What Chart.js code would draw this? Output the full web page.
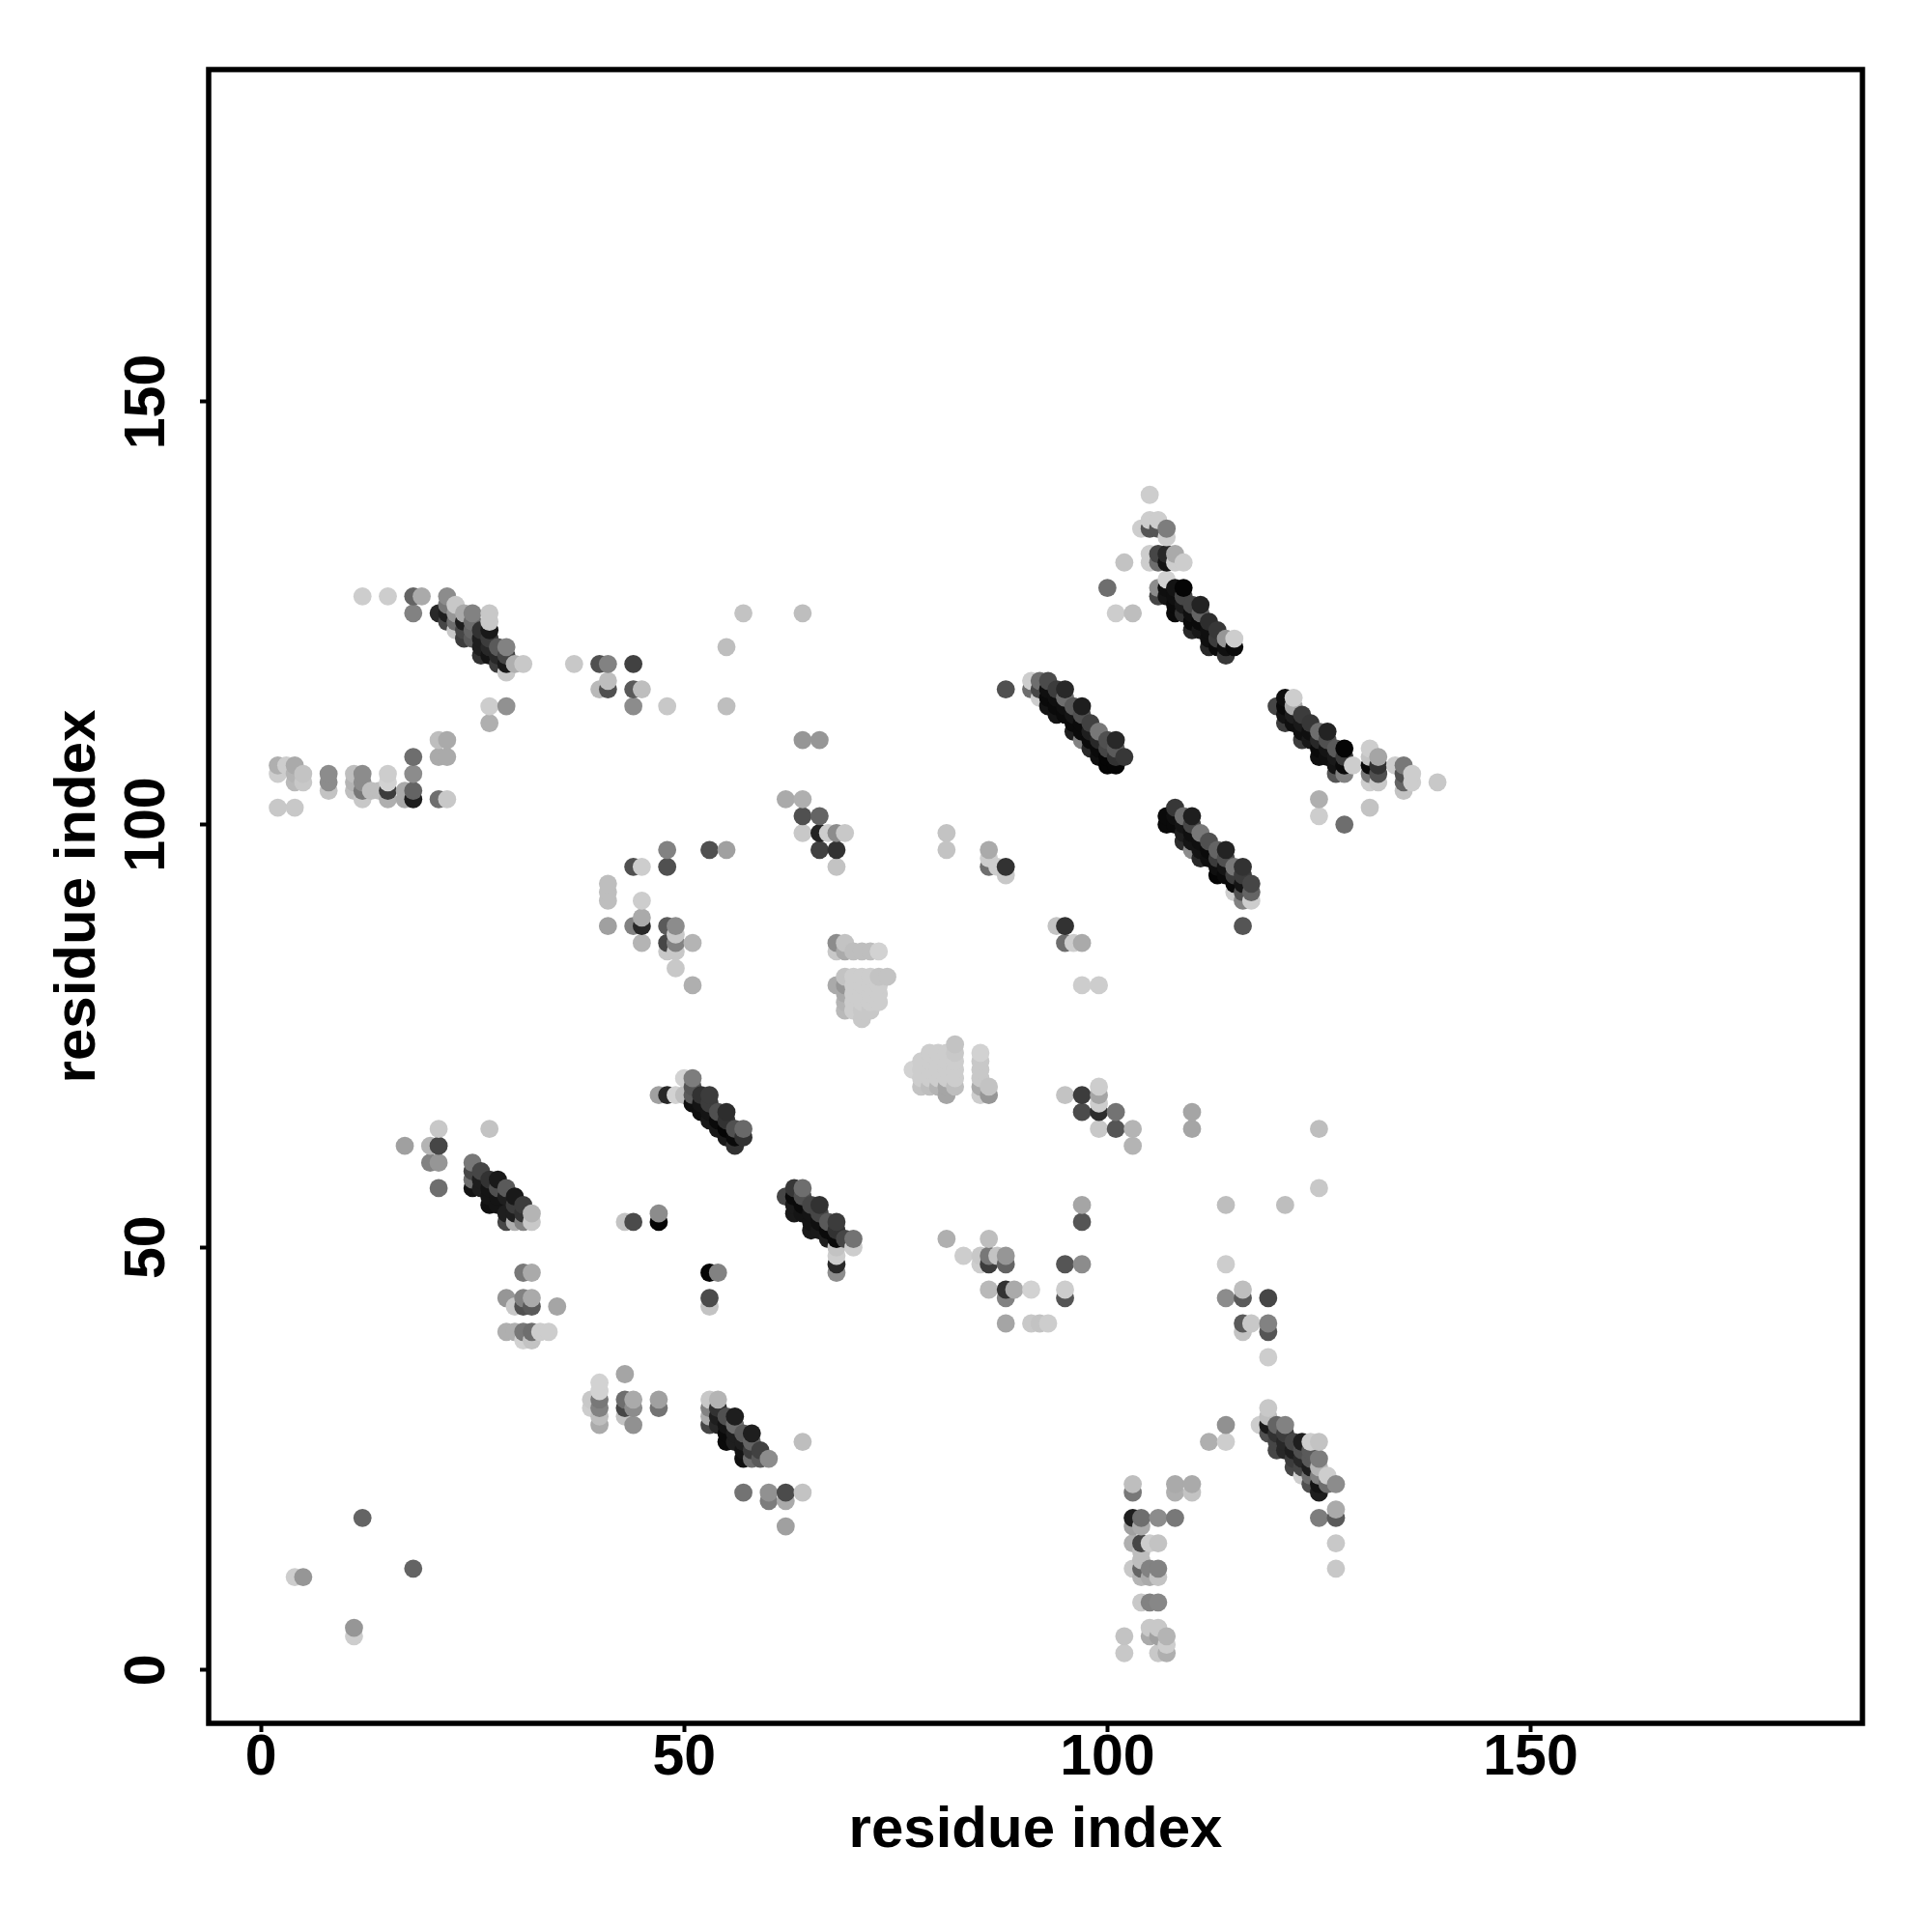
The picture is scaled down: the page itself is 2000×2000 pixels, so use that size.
<!DOCTYPE html>
<html>
<head>
<meta charset="utf-8">
<title>contact map</title>
<script src="https://cdn.jsdelivr.net/npm/chart.js@4/dist/chart.umd.js"></script>
<style>
  body { margin: 0; background: #fff; }
  canvas { display: block; }
</style>
</head>
<body>
<canvas id="contactMap" width="2000" height="2000"></canvas>
<script>
// each contact is [residue x, residue y, darkness 0-255]
const leftArm = [[2,107,80],[2,106,50],[2,102,55],[3,107,50],[4,107,85],[4,106,75],[4,105,70],[4,102,55],[5,106,60],[5,105,55],[8,106,115],[8,105,115],[8,104,60],[11,106,65],[11,105,75],[11,104,65],[12,106,115],[12,105,115],[12,104,135],[12,103,55],[13,104,65],[14,104,65],[15,106,50],[15,105,45],[15,104,195],[15,103,80],[17,104,85],[17,103,85],[18,108,145],[18,106,115],[18,104,155],[18,103,225],[21,110,65],[21,108,85],[21,103,145],[22,110,85],[22,108,85],[22,103,55]];
const sheetA = [[12,127,50],[15,127,50],[18,127,155],[19,127,85],[22,127,115],[18,125,125],[21,125,215],[22,126,135],[22,125,225],[22,124,185],[23,126,55],[23,125,105],[23,124,145],[23,123,55],[24,125,85],[24,124,225],[24,123,185],[24,122,195],[25,125,125],[25,124,145],[25,123,155],[25,122,165],[26,123,205],[26,122,225],[26,121,225],[26,120,205],[27,125,55],[27,124,55],[27,123,230],[27,122,195],[27,121,215],[27,120,235],[28,121,165],[28,120,215],[28,119,195],[29,121,125],[29,120,185],[29,119,230],[29,118,55],[30,119,80],[31,119,55],[27,114,50],[29,114,110],[27,112,80]];
const upperMiddle = [[57,125,60],[64,125,65],[55,121,65],[37,119,55],[40,119,175],[41,119,125],[44,119,190],[40,116,70],[41,117,65],[41,116,175],[44,116,165],[45,116,65],[44,114,115],[48,114,55],[55,114,65],[64,110,105],[66,110,105],[62,103,85],[64,103,80],[64,101,175],[66,101,155],[64,99,55],[66,99,220],[67,99,50],[68,99,115],[69,99,55],[81,99,60],[66,97,190],[68,97,205],[48,97,125],[53,97,175],[55,97,95],[81,97,60],[44,95,175],[45,95,50],[48,95,175],[68,95,60],[41,93,65],[41,92,65],[41,91,65],[45,91,50],[45,89,85],[41,88,95],[44,88,125],[45,88,215],[48,88,165],[49,88,115],[49,87,55],[45,86,75],[48,86,185],[49,86,125],[51,86,75],[48,85,55],[49,85,55],[49,83,55],[51,81,80]];
const blobUpper = [[68,86,115],[69,86,60],[68,85,55],[69,85,85],[70,85,65],[71,85,65],[72,85,65],[73,85,45],[69,82,60],[70,82,50],[71,82,50],[72,82,50],[73,82,60],[74,82,60],[68,81,85],[69,81,105],[70,81,50],[71,81,50],[72,81,50],[73,81,50],[69,80,85],[70,80,50],[71,80,50],[72,80,50],[73,80,50],[69,79,75],[70,79,50],[71,79,50],[72,79,50],[73,79,50],[69,78,70],[70,78,50],[71,78,55],[72,78,55],[71,77,55]];
const blobLower = [[82,74,60],[79,73,50],[80,73,50],[81,73,50],[82,73,55],[85,73,45],[78,72,50],[79,72,50],[80,72,50],[81,72,50],[82,72,50],[85,72,55],[77,71,45],[78,71,50],[79,71,50],[80,71,50],[81,71,50],[82,71,50],[85,71,55],[78,70,50],[79,70,50],[80,70,50],[81,70,50],[82,70,50],[85,70,55],[78,69,60],[79,69,65],[80,69,75],[81,69,90],[82,69,65],[85,69,85],[86,69,60],[81,68,90],[85,68,50],[86,68,105]];
const midRight = [[86,97,85],[86,96,50],[86,95,145],[87,95,50],[88,95,205],[88,94,55],[94,88,60],[95,88,205],[95,86,145],[96,86,50],[97,86,85],[97,81,50],[99,81,50],[95,68,60],[97,68,195],[99,69,50],[99,68,90],[99,67,50],[97,66,180],[99,66,210],[101,66,140],[99,64,55],[101,64,170],[103,64,75],[103,62,75],[110,66,90],[110,64,90],[125,64,65],[125,57,55],[114,55,65],[121,55,65],[97,55,90],[97,53,170]];
const sheetB = [[47,68,95],[48,68,215],[49,68,45],[50,68,65],[50,70,45],[51,70,130],[51,69,170],[51,68,165],[51,67,240],[52,68,205],[52,67,235],[52,66,240],[53,68,195],[53,67,195],[53,66,235],[53,65,230],[54,66,175],[54,65,245],[54,64,230],[55,66,210],[55,65,205],[55,64,250],[55,63,230],[56,64,175],[56,63,245],[56,62,205],[57,64,150],[57,63,205]];
const sheetC = [[62,56,185],[63,57,200],[63,56,245],[63,55,230],[63,54,230],[64,57,145],[64,56,175],[64,55,245],[64,54,235],[65,55,185],[65,54,235],[65,53,235],[65,52,230],[66,55,205],[66,54,185],[66,53,240],[66,52,230],[67,53,165],[67,52,245],[67,51,225],[68,53,195],[68,52,205],[68,51,245],[68,50,60],[68,49,50],[68,48,215],[68,47,115],[69,51,185],[70,51,140],[70,50,50]];
const sheetD = [[17,62,95],[20,62,75],[21,64,55],[21,62,185],[20,60,125],[21,60,105],[21,57,145],[27,64,60],[25,60,135],[25,59,185],[25,58,145],[25,57,235],[26,59,185],[26,58,225],[26,57,225],[27,58,205],[27,57,235],[27,56,235],[27,55,240],[28,58,230],[28,57,175],[28,56,235],[28,55,235],[29,57,165],[29,56,225],[29,54,225],[29,53,185],[30,56,230],[30,55,195],[30,54,225],[30,53,80],[31,55,195],[31,54,205],[31,53,125],[32,54,75],[32,53,55]];
const lowerMiddle = [[43,53,60],[44,53,180],[47,54,115],[47,53,250],[53,47,250],[54,47,125],[53,44,180],[53,43,60],[31,47,135],[32,47,85],[29,44,105],[31,44,125],[32,44,85],[30,43,55],[31,43,175],[32,43,165],[35,43,90],[29,40,80],[30,40,80],[31,40,135],[32,40,145],[33,40,50],[34,40,50],[31,39,45],[32,39,60]];
const lowerRight = [[81,51,80],[86,51,65],[83,49,50],[85,49,55],[86,49,135],[87,49,60],[88,49,105],[85,48,50],[86,48,195],[88,48,155],[95,48,170],[97,48,115],[114,48,50],[86,45,70],[88,45,205],[89,45,85],[91,45,45],[95,45,50],[116,45,65],[88,44,125],[95,44,170],[114,44,115],[116,44,165],[119,44,185],[88,41,90],[91,41,55],[92,41,60],[93,41,50],[116,41,165],[117,41,55],[119,41,125],[116,40,60],[119,40,170],[119,37,50]];
const sheetE = [[43,35,90],[40,34,45],[40,33,45],[39,32,55],[40,32,135],[43,32,145],[44,32,85],[47,32,95],[39,31,50],[40,31,125],[43,31,185],[44,31,115],[47,31,140],[40,30,65],[43,30,60],[40,29,85],[44,29,110],[53,32,55],[53,31,125],[53,30,85],[53,29,185],[54,32,75],[54,31,205],[54,30,225],[54,29,215],[55,30,175],[55,29,235],[55,28,245],[55,27,245],[56,30,225],[56,29,145],[56,28,225],[56,27,225],[57,28,165],[57,27,225],[57,26,235],[57,25,240],[58,28,225],[58,27,155],[58,26,195],[58,25,145],[59,26,190],[59,25,165],[60,25,115],[64,27,65],[57,21,140],[60,21,110],[62,21,180],[64,21,60],[60,20,130],[62,20,85],[62,17,95]];
const sheetF = [[114,29,110],[112,27,80],[114,27,50],[118,29,50],[119,31,55],[119,30,65],[119,29,230],[119,28,175],[120,29,155],[120,28,205],[120,27,185],[120,26,185],[121,29,125],[121,28,195],[121,27,215],[121,26,215],[122,27,185],[122,26,225],[122,25,195],[122,24,185],[123,27,225],[123,26,175],[123,25,215],[123,24,185],[123,23,50],[124,27,50],[124,26,165],[124,25,165],[124,24,225],[124,23,145],[124,22,175],[125,27,60],[125,25,130],[125,24,75],[125,23,125],[125,22,235],[125,21,225],[126,23,50],[126,22,145],[127,22,115],[127,19,85],[125,18,130],[127,18,165],[127,15,55],[127,12,55]];
const bottomColumn = [[103,22,65],[103,21,135],[103,18,225],[104,18,145],[106,18,115],[108,18,135],[108,22,85],[108,21,80],[110,22,85],[110,21,60],[103,17,95],[104,17,85],[103,15,80],[104,15,185],[105,15,50],[106,15,60],[104,14,65],[104,13,65],[103,12,55],[104,12,155],[105,12,125],[106,12,125],[104,11,75],[105,11,85],[106,11,60],[104,8,55],[105,8,125],[106,8,120],[105,5,55],[106,5,55],[102,4,60],[105,4,85],[106,4,95],[107,4,75],[107,3,50],[102,2,55],[106,2,55],[107,2,80]];
const cornerLeft = [[12,18,155],[4,11,50],[5,11,105],[18,12,155],[11,5,105],[11,4,50]];
const topCluster = [[105,139,50],[105,136,50],[106,136,50],[104,135,50],[105,135,170],[106,135,170],[107,135,130],[107,134,50],[105,132,50],[106,132,185],[107,132,215],[108,132,85],[102,131,60],[105,131,50],[106,131,145],[107,131,235],[108,131,50],[109,131,50],[107,129,45],[100,128,145],[106,128,115],[107,128,240],[108,128,235],[109,128,250],[106,127,185],[107,127,235],[108,127,240],[109,127,185],[101,125,50],[103,125,65],[108,126,245],[109,126,230],[110,126,185],[111,126,220],[108,125,245],[109,125,205],[110,125,240],[111,125,155],[110,124,245],[111,124,245],[112,124,210],[110,123,215],[111,123,230],[112,123,240],[113,123,200],[112,122,240],[113,122,195],[114,122,105],[115,122,50],[112,121,215],[113,121,245],[114,121,240],[115,121,245],[114,120,200]];
const sheetG = [[88,116,175],[91,117,50],[91,116,145],[92,117,145],[92,116,185],[92,115,50],[93,117,180],[93,116,240],[93,115,245],[93,114,235],[94,116,195],[94,115,240],[94,114,245],[94,113,235],[95,116,215],[95,115,145],[95,114,240],[95,113,245],[96,114,165],[96,113,235],[96,112,245],[96,111,225],[97,114,225],[97,113,175],[97,112,245],[97,111,245],[97,110,125],[98,112,190],[98,111,225],[98,110,245],[98,109,215],[99,111,135],[99,110,215],[99,109,245],[99,108,240],[100,110,175],[100,109,185],[100,108,250],[100,107,250],[101,110,215],[101,109,165],[101,108,205],[101,107,250],[102,108,200]];
const sheetH = [[120,114,185],[121,115,240],[121,114,245],[121,113,235],[121,112,195],[122,115,50],[122,114,85],[122,113,225],[122,112,240],[123,113,195],[123,112,230],[123,111,240],[123,110,195],[124,112,200],[124,111,240],[124,110,230],[125,111,145],[125,110,215],[125,109,245],[125,108,240],[126,111,220],[126,110,175],[126,109,235],[126,108,240],[127,109,165],[127,108,230],[127,107,235],[127,106,170],[128,109,250],[128,108,195],[128,107,245],[128,106,125],[129,107,50],[131,109,50],[131,108,60],[131,107,245],[131,106,135],[131,105,50],[132,108,90],[132,107,205],[132,106,175],[132,105,55],[134,107,50],[135,107,135],[135,106,175],[135,105,155],[135,104,60],[136,106,50],[136,105,50],[139,105,55],[125,103,80],[125,101,50],[131,102,60],[128,100,145]];
const sheetI = [[108,102,200],[107,101,245],[107,100,245],[108,101,240],[108,100,245],[109,101,145],[109,100,235],[109,99,225],[109,98,210],[110,101,225],[110,100,185],[110,99,240],[110,98,235],[110,97,115],[111,99,135],[111,98,240],[111,97,235],[111,96,215],[112,98,175],[112,97,245],[112,96,240],[113,97,155],[113,96,195],[113,95,240],[113,94,250],[114,97,220],[114,96,175],[114,95,235],[114,94,245],[115,95,135],[115,94,195],[115,93,245],[115,92,50],[116,95,205],[116,94,195],[116,93,235],[116,92,175],[116,91,125],[117,93,185],[117,92,155],[117,91,50],[116,88,170]];

const xTicks = [0, 50, 100, 150];
const yTicks = [0, 50, 100, 150];
const axisLabel = 'residue index';

// points are painted by x then y, later ones on top
const contacts = [].concat(
    leftArm, sheetA, upperMiddle, blobUpper, blobLower, midRight, sheetB, sheetC, sheetD,
    lowerMiddle, lowerRight, sheetE, sheetF, bottomColumn, cornerLeft, topCluster, sheetG, sheetH, sheetI
).sort((a, b) => a[0] - b[0] || a[1] - b[1]);

const fontFamily = '"Liberation Sans", Arial, sans-serif';
const tickFont = { family: fontFamily, size: 59, weight: 'bold' };
const titleFont = { family: fontFamily, size: 60, weight: 'bold' };

// Marco completo alrededor del area de dibujo
const framePlugin = {
    id: 'frame',
    afterDraw(chart) {
        const { ctx, chartArea: a } = chart;
        ctx.save();
        ctx.strokeStyle = '#000';
        ctx.lineWidth = 5.5;
        ctx.strokeRect(a.left, a.top, a.right - a.left, a.bottom - a.top);
        ctx.restore();
    }
};

function axisGrid() {
    return { display: true, drawOnChartArea: false, drawTicks: true, tickLength: 9, tickWidth: 4, tickColor: '#000' };
}

new Chart(document.getElementById('contactMap'), {
    type: 'scatter',
    data: {
        datasets: [{
            data: contacts.map(c => ({ x: c[0], y: c[1] })),
            pointBackgroundColor: contacts.map(c => {
                const g = 255 - c[2];
                return `rgb(${g},${g},${g})`;
            }),
            pointBorderWidth: 0,
            pointRadius: 9.4,
            pointHoverRadius: 9.4
        }]
    },
    options: {
        responsive: false,
        animation: false,
        layout: { padding: { top: 72, right: 72, left: 0, bottom: 0 } },
        plugins: { legend: { display: false }, tooltip: { enabled: false } },
        scales: {
            x: {
                type: 'linear',
                min: -6.17,
                max: 189.2,
                afterFit(scale) { scale.height = 216; },
                afterBuildTicks(scale) { scale.ticks = xTicks.map(v => ({ value: v })); },
                grid: axisGrid(),
                border: { display: false },
                ticks: { autoSkip: false, maxRotation: 0, color: '#000', font: tickFont, padding: -8 },
                title: { display: true, text: axisLabel, color: '#000', font: titleFont, padding: { top: 0, bottom: 69 } }
            },
            y: {
                type: 'linear',
                min: -6.3,
                max: 189.3,
                afterFit(scale) { scale.width = 216; },
                afterBuildTicks(scale) { scale.ticks = yTicks.map(v => ({ value: v })); },
                grid: axisGrid(),
                border: { display: false },
                ticks: { autoSkip: false, minRotation: 90, maxRotation: 90, crossAlign: 'center', color: '#000', font: tickFont, padding: 4 },
                title: { display: true, text: axisLabel, color: '#000', font: titleFont, padding: { top: 45, bottom: 0 } }
            }
        }
    },
    plugins: [framePlugin]
});
</script>
</body>
</html>
